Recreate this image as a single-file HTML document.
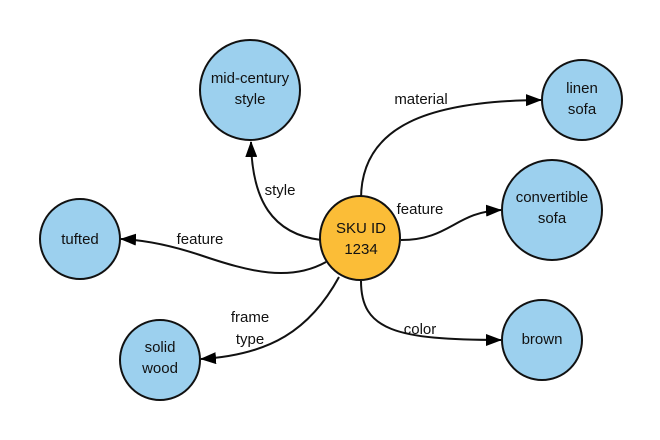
<!DOCTYPE html>
<html><head><style>
html,body{margin:0;padding:0;background:#fff;}
svg{display:block;}
text{font-family:"Liberation Sans",sans-serif;fill:#111;}
</style></head><body>
<svg width="660" height="440" viewBox="0 0 660 440" xmlns="http://www.w3.org/2000/svg">
<defs>
<marker id="a" markerWidth="16" markerHeight="12" refX="15" refY="6" orient="auto" markerUnits="userSpaceOnUse">
<path d="M0,0 L16,6 L0,12 Z" fill="#000"/>
</marker>
</defs>
<g fill="none" stroke="#111" stroke-width="2">
<path d="M321 240 C 272 234, 252 200, 251 142" marker-end="url(#a)"/>
<path d="M361 199 C 361 125, 430 101, 541 100" marker-end="url(#a)"/>
<path d="M401 240 C 450 240, 455 212, 501 210" marker-end="url(#a)"/>
<path d="M326 262 C 290 282, 250 272, 200 255 C 170 245, 145 240, 121 239" marker-end="url(#a)"/>
<path d="M339 277 C 310 330, 270 355, 201 359" marker-end="url(#a)"/>
<path d="M361 281 C 361 330, 395 340, 501 340" marker-end="url(#a)"/>
</g>
<g stroke="#111" stroke-width="2" fill="#9cd0ee">
<ellipse cx="250" cy="90" rx="50" ry="50"/>
<ellipse cx="582" cy="100" rx="40" ry="40"/>
<ellipse cx="552" cy="210" rx="50" ry="50"/>
<ellipse cx="80" cy="239" rx="40" ry="40"/>
<ellipse cx="160" cy="360" rx="40" ry="40"/>
<ellipse cx="542" cy="340" rx="40" ry="40"/>
<ellipse cx="360" cy="238" rx="40" ry="42" fill="#fbbd37"/>
</g>
<g font-size="15" text-anchor="middle">
<text x="250" y="83">mid-century</text>
<text x="250" y="104">style</text>
<text x="582" y="93">linen</text>
<text x="582" y="114">sofa</text>
<text x="552" y="202">convertible</text>
<text x="552" y="223">sofa</text>
<text x="80" y="244">tufted</text>
<text x="160" y="352">solid</text>
<text x="160" y="373">wood</text>
<text x="542" y="344">brown</text>
<text x="361" y="233">SKU ID</text>
<text x="361" y="254">1234</text>
<text x="421" y="104">material</text>
<text x="280" y="195">style</text>
<text x="420" y="214">feature</text>
<text x="200" y="244">feature</text>
<text x="250" y="322">frame</text>
<text x="250" y="344">type</text>
<text x="420" y="334">color</text>
</g>
</svg>
</body></html>
